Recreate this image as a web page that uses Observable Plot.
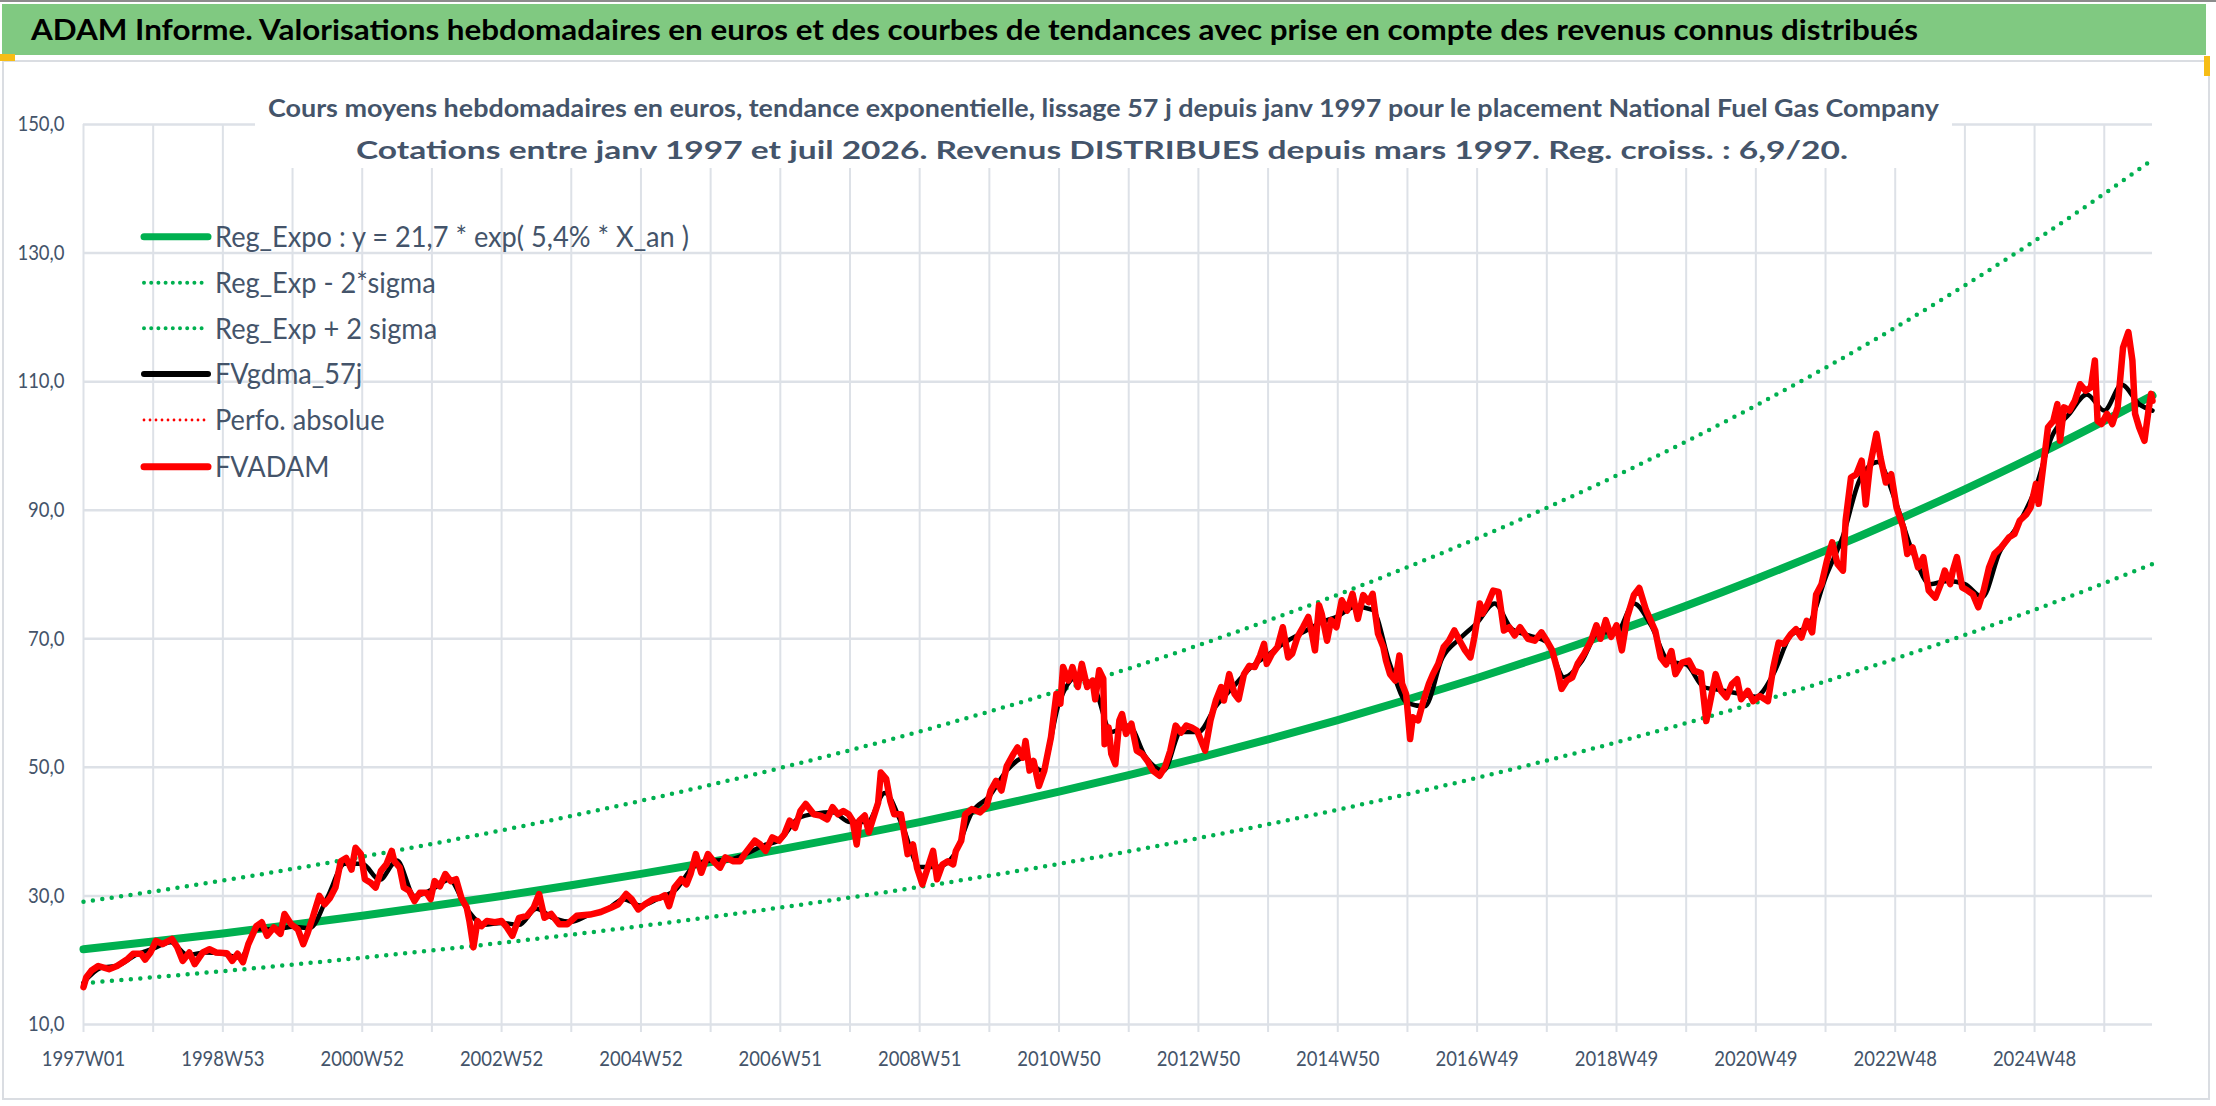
<!DOCTYPE html>
<html><head><meta charset="utf-8">
<script src="https://cdn.jsdelivr.net/npm/d3@7"></script>
<script src="https://cdn.jsdelivr.net/npm/@observablehq/plot@0.6"></script>
<style>
html,body{margin:0;padding:0;background:#fff;}
#wrap{position:relative;width:2216px;height:1106px;overflow:hidden;font-family:Lato,"Open Sans",sans-serif;}
#topline{position:absolute;left:0;top:0;width:2216px;height:2px;background:#8c8c8c;}
#bar{position:absolute;left:2px;top:4px;width:2204px;height:51px;background:#80c981;}
#frame{position:absolute;left:2px;top:60px;width:2208px;height:1040px;border:2px solid #dadde2;box-sizing:border-box;background:#fff;}
#wrap svg{position:absolute;left:0;top:0;}
</style></head>
<body><div id="wrap"><div id="topline"></div><div id="bar"></div><div id="frame"></div></div>
<script>
// ---------- data ----------
const titleText = "ADAM Informe. Valorisations hebdomadaires en euros et des courbes de tendances avec prise en compte des revenus connus distribués";
const subtitle1 = "Cours moyens hebdomadaires en euros, tendance exponentielle, lissage 57 j depuis janv 1997 pour le placement National Fuel Gas Company";
const subtitle2 = "Cotations entre janv 1997 et juil 2026. Revenus DISTRIBUES depuis mars 1997. Reg. croiss. : 6,9/20.";
const legendLabels = ["Reg_Expo : y = 21,7 * exp( 5,4% *  X_an )", "Reg_Exp - 2*sigma", "Reg_Exp + 2 sigma", "FVgdma_57j", "Perfo. absolue", "FVADAM"];

const yTicks = [10, 30, 50, 70, 90, 110, 130, 150];
const xLabelWeeks = [0, 104, 208, 312, 416, 520, 624, 728, 832, 936, 1040, 1144, 1248, 1352, 1456];
const xLabels = ["1997W01","1998W53","2000W52","2002W52","2004W52","2006W51","2008W51","2010W50","2012W50","2014W50","2016W49","2018W49","2020W49","2022W48","2024W48"];
const xGridWeeks = [0,52,104,156,208,260,312,364,416,468,520,572,624,676,728,780,832,884,936,988,1040,1092,1144,1196,1248,1300,1352,1404,1456,1508];
const lastWeek = 1544;

// regression curve and ±2 sigma bands (yearly points)
const regWeeks = [0,52,104,156,208,260,312,364,416,468,520,572,624,676,728,780,832,884,936,988,1040,1092,1144,1196,1248,1300,1352,1404,1456,1508,1544];
const regValues = [21.70,22.90,24.17,25.52,26.93,28.43,30.00,31.67,33.43,35.28,37.24,39.30,41.48,43.79,46.22,48.78,51.49,54.35,57.36,60.55,63.90,67.45,71.19,75.14,79.31,83.71,88.36,93.26,98.43,103.90,107.84];
const upperValues = [29.08,30.69,32.39,34.20,36.09,38.10,40.20,42.44,44.80,47.28,49.90,52.66,55.58,58.68,61.93,65.37,69.00,72.83,76.86,81.14,85.63,90.38,95.39,100.69,106.28,112.17,118.40,124.97,131.90,139.23,144.51];
const lowerValues = [16.43,17.34,18.30,19.32,20.39,21.52,22.71,23.97,25.31,26.71,28.19,29.75,31.40,33.15,34.99,36.93,38.98,41.14,43.42,45.84,48.37,51.06,53.89,56.88,60.04,63.37,66.89,70.60,74.51,78.65,81.64];

// FVADAM (weekly valuations)
const redWeeks = [
0,2,6,11,19,25,33,37,43,46,
50,54,59,66,70,74,79,83,89,94,
99,107,111,115,119,123,129,133,137,142,
147,150,155,160,164,167,171,176,180,184,
188,192,196,200,203,207,210,214,218,222,
226,230,232,236,239,243,247,251,256,259,
262,266,270,274,278,282,286,288,291,294,
297,301,307,312,316,320,325,331,336,340,
344,349,355,361,368,378,386,394,399,405,
409,414,419,425,430,434,437,441,446,450,
453,457,461,466,471,475,479,485,490,494,
501,505,509,514,519,523,527,531,535,539,
545,550,555,559,563,567,571,574,577,579,
583,586,589,593,595,599,602,605,610,613,
615,619,622,626,630,634,637,641,645,649,
651,655,658,663,669,674,677,681,685,689,
694,697,701,703,706,709,713,717,722,726,
729,731,735,738,742,745,749,753,755,758,
761,762,765,767,770,773,775,778,782,786,
790,794,798,803,807,811,815,819,823,827,
831,837,841,845,849,851,855,859,862,866,
870,874,878,881,883,887,891,895,899,902,
906,910,914,917,919,922,924,928,931,935,
939,943,947,951,955,959,962,966,970,972,
975,979,982,984,987,990,992,996,1000,1004,
1007,1011,1015,1019,1023,1027,1031,1035,1038,1042,
1044,1048,1052,1056,1060,1064,1068,1072,1078,1083,
1088,1092,1096,1100,1103,1107,1111,1115,1120,1125,
1129,1132,1136,1140,1144,1148,1152,1157,1161,1166,
1173,1177,1181,1185,1188,1193,1198,1202,1207,1211,
1214,1218,1222,1226,1230,1234,1237,1242,1246,1251,
1257,1261,1265,1269,1274,1278,1282,1286,1290,1293,
1297,1301,1305,1309,1313,1315,1319,1323,1327,1330,
1333,1338,1341,1345,1349,1353,1358,1361,1365,1369,
1373,1377,1382,1386,1389,1393,1395,1398,1402,1406,
1410,1414,1418,1422,1426,1431,1437,1441,1445,1450,
1453,1457,1459,1463,1466,1470,1473,1475,1478,1482,
1486,1490,1494,1498,1501,1503,1506,1510,1514,1518,
1522,1526,1529,1531,1534,1538,1541,1543,1544];
const redValues = [
15.8,17.3,18.4,19.1,18.6,19.1,20.2,21.0,21.0,20.1,
21.2,23.0,22.5,23.3,22.0,19.9,21.2,19.4,21.2,21.7,
21.2,21.1,19.9,21.0,19.7,22.5,25.3,25.9,23.8,25.1,
24.1,27.2,25.6,24.8,22.5,24.1,26.6,30.0,28.7,29.7,
31.3,35.4,35.9,34.1,37.5,36.5,32.6,32.1,31.3,33.9,
34.9,37.0,35.4,34.4,31.3,30.8,29.2,30.5,30.5,29.5,
32.3,31.5,33.4,32.3,32.6,29.7,28.2,26.1,22.0,26.1,
25.3,26.1,25.9,26.1,25.1,23.8,26.6,26.9,28.2,30.3,
26.6,27.2,25.6,25.6,26.9,27.1,27.5,28.2,28.7,30.3,
29.5,27.9,28.7,29.5,29.7,30.1,28.4,31.3,32.6,31.8,
33.4,36.5,33.6,36.5,35.2,34.4,36.0,35.4,35.4,36.7,
38.6,38.0,37.0,39.1,38.6,39.6,41.7,40.6,43.2,44.3,
42.7,42.5,41.9,43.8,42.7,43.2,42.7,41.7,38.0,41.7,
42.5,39.9,41.9,44.5,49.2,48.2,44.8,42.7,42.7,39.1,
36.5,38.0,34.4,31.8,34.4,37.0,32.6,34.9,35.4,34.9,
37.0,38.6,42.7,43.5,43.0,44.0,46.4,47.9,46.4,50.2,
52.1,53.1,51.5,54.1,49.5,51.0,47.1,49.5,54.7,61.4,
59.9,65.6,63.5,65.6,62.5,66.1,62.5,63.5,60.6,65.1,
63.8,53.6,56.2,52.1,50.5,57.3,58.3,55.2,56.8,52.6,
52.1,51.0,49.5,48.7,50.0,52.6,56.5,55.4,56.5,56.2,
55.7,52.6,57.3,60.4,62.5,60.4,64.5,61.4,60.6,64.5,
65.8,65.6,67.4,69.2,66.1,67.7,68.7,71.8,67.1,67.7,
70.3,71.8,73.4,70.5,68.2,75.2,73.9,69.7,72.9,71.8,
76.0,74.4,77.0,73.1,76.8,75.7,77.0,70.8,68.7,66.6,
64.5,63.5,67.4,63.0,61.4,54.4,57.8,57.3,60.4,63.0,
64.5,66.1,68.7,69.7,71.3,69.7,68.2,67.1,70.3,75.5,
73.9,75.5,77.5,77.3,71.3,71.8,70.5,71.8,70.0,69.7,
71.0,69.7,68.2,65.1,62.2,63.5,64.0,66.1,67.7,69.7,
72.1,70.0,72.9,70.3,72.1,68.2,73.4,76.8,77.9,74.5,
71.2,67.1,66.0,68.1,64.5,66.3,66.6,65.0,64.7,57.2,
60.3,64.5,61.9,60.9,62.9,63.7,60.6,61.9,60.3,61.1,
60.3,65.5,69.4,69.2,70.7,71.5,70.2,72.8,71.0,76.9,
78.5,82.1,85.0,81.6,80.6,88.4,95.1,95.6,97.7,90.9,
96.7,101.9,98.2,94.3,95.6,90.4,87.3,83.2,84.2,81.1,
82.7,77.5,76.4,78.5,80.6,78.5,80.6,82.7,78.0,77.5,
76.9,74.9,77.5,81.1,83.2,84.2,85.8,86.3,88.4,89.4,
90.4,94.1,91.0,97.7,102.9,103.9,106.5,100.8,106.0,105.5,
107.0,109.6,108.6,109.1,113.3,103.9,103.4,105.0,103.4,106.0,
115.3,117.7,113.3,105.0,102.9,100.8,105.5,108.1,107.0];

// FVgdma_57j (smoothed)
const blackWeeks = [
0,13,26,39,52,65,78,91,104,117,
130,143,156,169,182,195,208,221,234,247,
260,273,286,299,312,325,338,351,364,377,
390,403,416,429,442,455,468,481,494,507,
520,533,546,559,572,585,598,611,624,637,
650,663,676,689,702,715,728,741,754,767,
780,793,806,819,832,845,858,871,884,897,
910,923,936,949,962,975,988,1001,1014,1027,
1040,1053,1066,1079,1092,1105,1118,1131,1144,1157,
1170,1183,1196,1209,1222,1235,1248,1261,1274,1287,
1300,1313,1326,1339,1352,1365,1378,1391,1404,1417,
1430,1443,1456,1469,1482,1495,1508,1521,1534,1544];
const blackValues = [
16.5,18.8,19.2,20.8,21.8,22.8,20.8,21.2,21.0,20.4,
24.8,24.8,25.2,25.0,29.8,35.0,35.0,32.5,35.5,30.0,
31.0,32.5,28.0,25.5,25.8,25.5,28.0,26.5,26.0,27.0,
27.8,29.5,28.5,29.6,31.0,34.5,35.5,35.6,36.5,37.8,
38.8,42.0,42.8,43.0,41.5,41.5,46.0,41.0,34.5,34.5,
36.5,43.0,45.5,49.5,51.5,49.5,60.0,64.0,62.5,55.5,
56.5,51.5,49.5,55.5,55.5,59.5,62.5,65.5,67.5,69.5,
71.0,72.5,73.5,75.0,74.5,66.0,60.0,59.5,67.0,70.0,
72.5,75.5,71.5,70.5,69.5,64.0,66.5,71.0,71.0,75.5,
72.0,66.5,66.0,62.5,62.0,61.5,61.0,64.5,70.5,72.0,
79.5,86.0,95.0,97.5,91.5,83.5,78.5,79.0,78.5,76.5,
83.5,87.5,93.0,101.5,105.0,108.0,105.5,109.5,106.5,105.5];

// ---------- styles ----------
const GREEN = "#00b050", RED = "#ff0000", BLACK = "#000000", GRID = "#dde1e7", TEXT = "#44546a";

const zipRows = (ws, vs) => ws.map((w, i) => ({w, v: vs[i]}));
const regRows = zipRows(regWeeks, regValues);
const upRows = zipRows(regWeeks, upperValues);
const lowRows = zipRows(regWeeks, lowerValues);
const redRows = zipRows(redWeeks, redValues);
const blackRows = zipRows(blackWeeks, blackValues);
const labelMap = new Map(xLabelWeeks.map((w, i) => [w, xLabels[i]]));

const chart = Plot.plot({
  width: 2216, height: 1106,
  marginLeft: 83, marginRight: 64, marginTop: 124, marginBottom: 82,
  style: {background: "transparent", fontFamily: "Lato, 'Open Sans', sans-serif", overflow: "visible"},
  x: {domain: [0, lastWeek]},
  y: {domain: [10, 150]},
  marks: [
    Plot.ruleY(yTicks, {stroke: GRID, strokeWidth: 2.5}),
    Plot.ruleX(xGridWeeks, {stroke: GRID, strokeWidth: 2, insetBottom: -8}),
    Plot.axisY(yTicks, {label: null, tickSize: 0, tickPadding: 19, fontSize: 21, color: TEXT, tickFormat: d => d.toFixed(1).replace(".", ",")}),
    Plot.axisX(xLabelWeeks, {label: null, tickSize: 0, tickPadding: 35, lineAnchor: "middle", fontSize: 21, color: TEXT, tickFormat: d => labelMap.get(d)}),
    Plot.line(regRows, {x: "w", y: "v", curve: "monotone-x", stroke: GREEN, strokeWidth: 8}),
    Plot.line(lowRows, {x: "w", y: "v", curve: "monotone-x", stroke: GREEN, strokeWidth: 4.5, strokeDasharray: "0 9.5", strokeLinecap: "round"}),
    Plot.line(upRows, {x: "w", y: "v", curve: "monotone-x", stroke: GREEN, strokeWidth: 4.5, strokeDasharray: "0 9.5", strokeLinecap: "round"}),
    Plot.line(blackRows, {x: "w", y: "v", curve: "monotone-x", stroke: BLACK, strokeWidth: 4.5}),
    Plot.line(redRows, {x: "w", y: "v", stroke: RED, strokeWidth: 6.5, strokeLinejoin: "round"})
  ]
});
document.getElementById("wrap").appendChild(chart);

function squeeze(node, factor) {
  const w = node.getComputedTextLength();
  node.setAttribute("textLength", (w * factor).toFixed(1));
  node.setAttribute("lengthAdjust", "spacingAndGlyphs");
}
function fitTo(node, target) {
  node.setAttribute("textLength", target);
  node.setAttribute("lengthAdjust", "spacingAndGlyphs");
}
chart.querySelectorAll('g[aria-label="x-axis tick label"] text, g[aria-label="y-axis tick label"] text').forEach(t => squeeze(t, 0.88));

// ---------- overlay: title, subtitle, legend ----------
const ov = d3.select("#wrap").append("svg").attr("width", 2216).attr("height", 1106)
  .style("font-family", "Lato, 'Open Sans', sans-serif");

// Excel selection handles
ov.append("rect").attr("x", 0).attr("y", 54).attr("width", 15).attr("height", 7).attr("fill", "#f6bd16");
ov.append("rect").attr("x", 2204).attr("y", 56).attr("width", 6).attr("height", 20).attr("fill", "#f6bd16");

const t0 = ov.append("text").attr("x", 31).attr("y", 39.5).attr("font-size", 29).attr("font-weight", 700)
  .attr("fill", "#000").text(titleText);
fitTo(t0.node(), 1887);

ov.append("rect").attr("x", 255).attr("y", 88).attr("width", 1697).attr("height", 80).attr("fill", "#fff");
const s1 = ov.append("text").attr("x", 1103.5).attr("y", 117).attr("text-anchor", "middle").attr("font-size", 25)
  .attr("font-weight", 700).attr("fill", TEXT).text(subtitle1);
fitTo(s1.node(), 1671);
const s2 = ov.append("text").attr("x", 1102).attr("y", 159).attr("text-anchor", "middle").attr("font-size", 25)
  .attr("font-weight", 700).attr("fill", TEXT).text(subtitle2);
fitTo(s2.node(), 1492);

const legendY = [236.7, 282.7, 328.3, 374, 420, 466.7];
const swatches = [
  {stroke: GREEN, width: 7, dash: null, cap: "round"},
  {stroke: GREEN, width: 4, dash: "0 7.2", cap: "round"},
  {stroke: GREEN, width: 4, dash: "0 7.2", cap: "round"},
  {stroke: BLACK, width: 6, dash: null, cap: "round"},
  {stroke: RED, width: 2.8, dash: "0 6", cap: "round"},
  {stroke: RED, width: 7, dash: null, cap: "round"}
];
let k = null;
legendLabels.forEach((lab, i) => {
  const s = swatches[i];
  const ln = ov.append("line").attr("x1", 144).attr("x2", 208).attr("y1", legendY[i]).attr("y2", legendY[i])
    .attr("stroke", s.stroke).attr("stroke-width", s.width).attr("stroke-linecap", s.cap);
  if (s.dash) ln.attr("stroke-dasharray", s.dash);
  const tx = ov.append("text").attr("x", 215).attr("y", legendY[i] + 10.3).attr("font-size", 28.7)
    .attr("fill", TEXT).text(lab);
  const w = tx.node().getComputedTextLength();
  if (k === null) k = 474 / w;
  fitTo(tx.node(), (w * k).toFixed(1));
});
</script>
</body></html>
